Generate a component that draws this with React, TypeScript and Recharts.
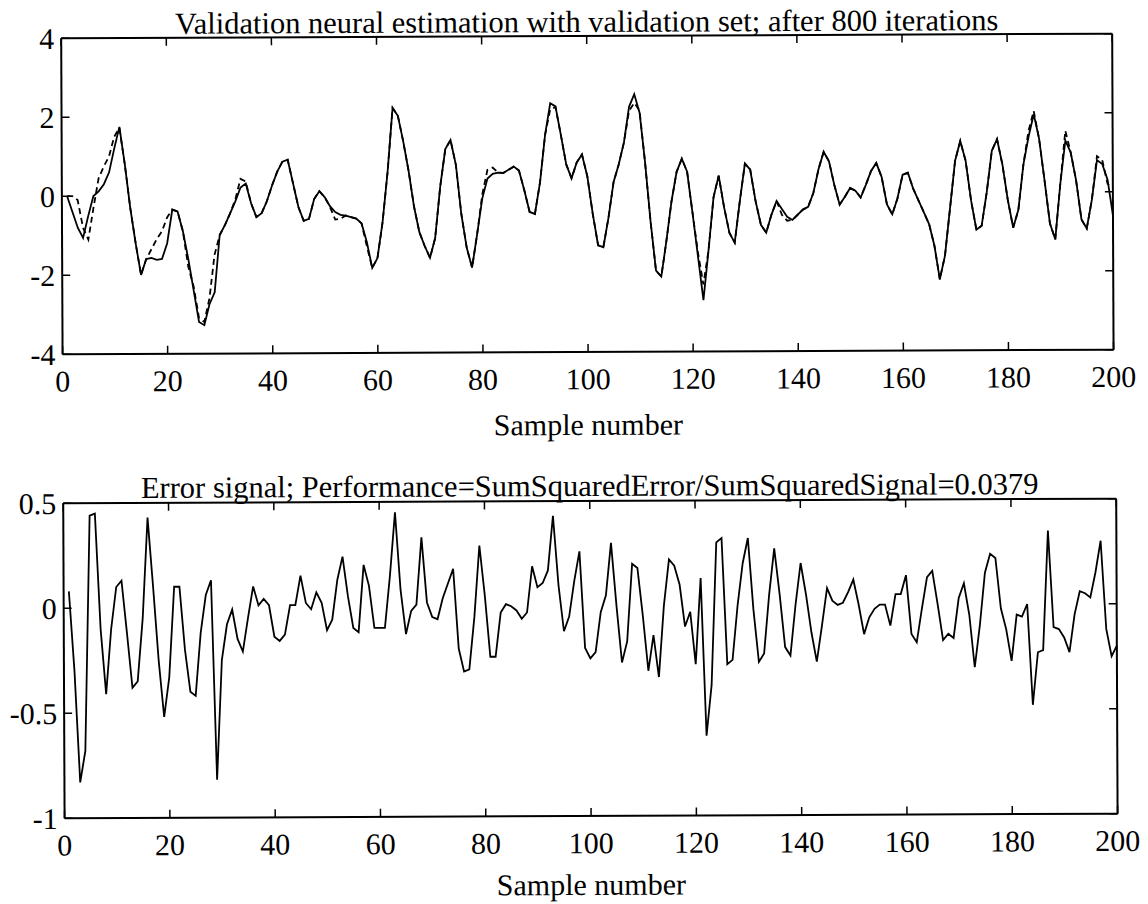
import React from 'react';
import { LineChart, Line, XAxis, YAxis } from 'recharts';

// sample index (1..200)
const SAMPLES = Array.from({ length: 200 }, (_, i) => i + 1);

// validation target (solid)
const TARGET = [
  0.0, -0.4, -0.8, -1.06, -0.5, 0.0, 0.12, 0.3, 0.6, 1.2,
  1.75, 0.8, -0.3, -1.2, -2.0, -1.6, -1.57, -1.62, -1.6, -1.2,
  -0.35, -0.4, -0.9, -1.6, -2.4, -3.2, -3.28, -2.75, -2.45, -1.0,
  -0.75, -0.45, -0.15, 0.2, 0.3, -0.2, -0.55, -0.45, -0.15, 0.25,
  0.6, 0.85, 0.9, 0.3, -0.3, -0.65, -0.6, -0.1, 0.1, -0.05,
  -0.28, -0.43, -0.5, -0.52, -0.56, -0.6, -0.72, -1.2, -1.85, -1.6,
  -0.7, 0.58, 2.2, 2.0, 1.35, 0.6, -0.3, -0.95, -1.3, -1.6,
  -1.1, 0.2, 1.15, 1.38, 0.75, -0.5, -1.35, -1.85, -1.0, -0.1,
  0.4, 0.52, 0.55, 0.54, 0.62, 0.7, 0.6, 0.1, -0.45, -0.5,
  0.3, 1.5, 2.3, 2.22, 1.5, 0.75, 0.4, 0.8, 1.0, 0.45,
  -0.5, -1.3, -1.35, -0.6, 0.3, 0.75, 1.3, 2.2, 2.52, 2.05,
  0.8, -0.7, -1.95, -2.1, -1.2, -0.2, 0.55, 0.88, 0.55, -0.5,
  -1.6, -2.7, -1.45, -0.1, 0.45, -0.35, -1.0, -1.25, -0.2, 0.75,
  0.6, -0.2, -0.8, -1.0, -0.55, -0.2, -0.4, -0.6, -0.68, -0.55,
  -0.42, -0.35, 0.0, 0.6, 1.04, 0.8, 0.2, -0.3, -0.1, 0.12,
  0.05, -0.12, 0.2, 0.55, 0.75, 0.4, -0.3, -0.55, -0.15, 0.45,
  0.5, 0.1, -0.2, -0.5, -0.8, -1.35, -2.2, -1.6, -0.4, 0.8,
  1.3, 0.8, -0.2, -0.95, -0.85, 0.0, 1.05, 1.34, 0.7, -0.2,
  -0.9, -0.45, 0.7, 1.4, 1.97, 1.35, 0.3, -0.8, -1.2, 0.2,
  1.3, 1.0, 0.3, -0.7, -0.93, -0.2, 0.8, 0.7, 0.3, -0.6,
];

// neural estimate (dashed)
const ESTIMATE = [
  0.0, 0.0, -0.1, -0.8, -1.1, -0.3, 0.45, 0.75, 1.0, 1.5,
  1.72, 0.8, -0.3, -1.2, -2.0, -1.6, -1.35, -1.1, -0.9, -0.55,
  -0.35, -0.4, -0.9, -1.8, -2.3, -3.1, -3.2, -2.6, -1.5, -1.0,
  -0.75, -0.45, -0.1, 0.42, 0.35, -0.2, -0.55, -0.45, -0.15, 0.25,
  0.6, 0.85, 0.9, 0.3, -0.3, -0.65, -0.6, -0.1, 0.1, -0.05,
  -0.3, -0.62, -0.6, -0.52, -0.56, -0.6, -0.72, -1.3, -1.85, -1.6,
  -0.7, 0.58, 2.2, 2.0, 1.35, 0.6, -0.3, -0.95, -1.3, -1.6,
  -1.1, 0.2, 1.15, 1.38, 0.75, -0.5, -1.35, -1.85, -1.0, 0.0,
  0.62, 0.68, 0.55, 0.54, 0.62, 0.7, 0.6, 0.1, -0.45, -0.5,
  0.3, 1.5, 2.15, 2.2, 1.5, 0.75, 0.4, 0.8, 1.0, 0.45,
  -0.5, -1.3, -1.35, -0.6, 0.3, 0.75, 1.3, 2.1, 2.3, 2.1,
  0.8, -0.7, -1.95, -2.1, -1.2, -0.2, 0.55, 0.88, 0.55, -0.5,
  -1.5, -2.3, -1.45, -0.1, 0.45, -0.35, -1.0, -1.25, -0.2, 0.75,
  0.6, -0.2, -0.8, -1.0, -0.55, -0.2, -0.55, -0.7, -0.68, -0.55,
  -0.42, -0.35, 0.0, 0.6, 1.04, 0.8, 0.2, -0.3, -0.1, 0.12,
  0.05, -0.12, 0.2, 0.55, 0.75, 0.4, -0.3, -0.55, -0.15, 0.45,
  0.5, 0.1, -0.2, -0.5, -0.8, -1.35, -2.2, -1.6, -0.4, 0.8,
  1.3, 0.8, -0.2, -0.95, -0.85, 0.0, 1.05, 1.34, 0.7, -0.2,
  -0.9, -0.45, 0.7, 1.55, 2.05, 1.35, 0.3, -0.8, -1.2, 0.2,
  1.55, 1.0, 0.3, -0.7, -0.93, -0.2, 0.9, 0.8, 0.2, 0.1,
];

// error signal
const ERROR = [
  0.08, -0.3, -0.83, -0.68, 0.44, 0.45, -0.1, -0.41, -0.1, 0.1,
  0.13, -0.12, -0.38, -0.35, -0.05, 0.43, 0.1, -0.25, -0.52, -0.33,
  0.1, 0.1, -0.2, -0.4, -0.42, -0.12, 0.06, 0.13, -0.82, -0.25,
  -0.08, -0.01, -0.15, -0.21, -0.05, 0.1, 0.01, 0.04, 0.01, -0.14,
  -0.16, -0.13, 0.01, 0.01, 0.15, 0.02, -0.01, 0.07, 0.02, -0.11,
  -0.06, 0.13, 0.24, 0.05, -0.1, -0.12, 0.2, 0.1, -0.1, -0.1,
  -0.1, 0.15, 0.45, 0.08, -0.13, -0.02, 0.01, 0.33, 0.02, -0.05,
  -0.06, 0.04, 0.11, 0.18, -0.2, -0.31, -0.3, -0.05, 0.29, 0.05,
  -0.24, -0.24, -0.03, 0.01, 0.0, -0.02, -0.06, -0.03, 0.19, 0.09,
  0.11, 0.17, 0.43, 0.1, -0.12, -0.05, 0.12, 0.26, -0.2, -0.25,
  -0.22, -0.03, 0.05, 0.3, 0.0, -0.27, -0.17, 0.2, 0.18, -0.05,
  -0.31, -0.14, -0.34, 0.0, 0.22, 0.19, 0.1, -0.1, -0.03, -0.28,
  0.13, -0.62, -0.38, 0.3, 0.32, -0.28, -0.26, 0.0, 0.2, 0.32,
  -0.02, -0.27, -0.23, 0.05, 0.27, 0.05, -0.2, -0.24, 0.0, 0.2,
  0.05, -0.13, -0.27, -0.1, 0.08, 0.02, 0.0, 0.01, 0.06, 0.12,
  0.0, -0.14, -0.06, -0.02, 0.0, 0.0, -0.1, 0.05, 0.05, 0.14,
  -0.14, -0.18, -0.02, 0.13, 0.16, 0.0, -0.17, -0.14, -0.16, 0.03,
  0.1, -0.05, -0.3, -0.1, 0.15, 0.24, 0.22, -0.02, -0.12, -0.27,
  -0.05, -0.06, 0.0, -0.48, -0.23, -0.22, 0.35, -0.11, -0.12, -0.16,
  -0.23, -0.05, 0.06, 0.05, 0.03, 0.15, 0.3, -0.12, -0.25, -0.2,
];

const X_TICKS = [0, 20, 40, 60, 80, 100, 120, 140, 160, 180, 200];
const TOP_Y_TICKS = [-4, -2, 0, 2, 4];
const BOTTOM_Y_TICKS = [-1, -0.5, 0, 0.5];

const TOP_TITLE = 'Validation neural estimation with validation set; after 800 iterations';
const BOTTOM_TITLE = 'Error signal; Performance=SumSquaredError/SumSquaredSignal=0.0379';
const X_LABEL = 'Sample number';

const FONT = '"Liberation Serif", "Times New Roman", serif';
const tickStyle = { fill: '#000', fontSize: 30, fontFamily: FONT };
const axisLine = { stroke: '#000', strokeWidth: 2 };
const tickLine = { stroke: '#000', strokeWidth: 1.5 };
const blank = () => '';

const App: React.FC = () => {
  const topData = SAMPLES.map((x, i) => ({ x, target: TARGET[i], estimate: ESTIMATE[i] }));
  const errData = SAMPLES.map((x, i) => ({ x, error: ERROR[i] }));

  return (
    <div
      style={{
        position: 'absolute', left: 0, top: 0, width: 1148, height: 904, background: '#fff',
        // the source scan is slightly tilted
        transform: 'rotate(-0.25deg)', transformOrigin: '574px 452px',
      }}
    >
      {/* upper panel */}
      <div style={{ position: 'absolute', left: 0, top: 0 }}>
        <LineChart width={1148} height={450} data={topData} margin={{ top: 35, right: 33, left: 0, bottom: 0 }}>
          <XAxis
            dataKey="x" type="number" domain={[0, 200]} ticks={X_TICKS} height={98}
            axisLine={axisLine} tickLine={tickLine} tickSize={-8} tickMargin={24} tick={tickStyle}
            label={{ value: X_LABEL, position: 'insideBottom', offset: 15, fill: '#000', fontSize: 30, fontFamily: FONT }}
          />
          <XAxis
            xAxisId="t" orientation="top" dataKey="x" type="number" domain={[0, 200]} ticks={X_TICKS} height={1}
            axisLine={axisLine} tickLine={tickLine} tickSize={-8} tickFormatter={blank}
            label={{ value: TOP_TITLE, position: 'top', offset: 3, fill: '#000', fontSize: 30.5, fontFamily: FONT }}
          />
          <YAxis
            type="number" domain={[-4, 4]} ticks={TOP_Y_TICKS} width={63}
            axisLine={axisLine} tickLine={tickLine} tickSize={-8} tickMargin={15} tick={tickStyle}
          />
          <YAxis
            yAxisId="r" orientation="right" type="number" domain={[-4, 4]} ticks={TOP_Y_TICKS} width={1}
            axisLine={axisLine} tickLine={tickLine} tickSize={-8} tickFormatter={blank}
          />
          <Line xAxisId="t" yAxisId="r" dataKey="target" stroke="none" dot={false} isAnimationActive={false} />
          <Line type="linear" dataKey="estimate" stroke="#000" strokeWidth={1.8} strokeDasharray="6 4" dot={false} isAnimationActive={false} />
          <Line type="linear" dataKey="target" stroke="#000" strokeWidth={1.8} dot={false} isAnimationActive={false} />
        </LineChart>
      </div>

      {/* lower panel */}
      <div style={{ position: 'absolute', left: 0, top: 450 }}>
        <LineChart width={1148} height={454} data={errData} margin={{ top: 50, right: 31, left: 0, bottom: 0 }}>
          <XAxis
            dataKey="x" type="number" domain={[0, 200]} ticks={X_TICKS} height={88}
            axisLine={axisLine} tickLine={tickLine} tickSize={-8} tickMargin={24} tick={tickStyle}
            label={{ value: X_LABEL, position: 'insideBottom', offset: 9, fill: '#000', fontSize: 30, fontFamily: FONT }}
          />
          <XAxis
            xAxisId="t" orientation="top" dataKey="x" type="number" domain={[0, 200]} ticks={X_TICKS} height={1}
            axisLine={axisLine} tickLine={tickLine} tickSize={-8} tickFormatter={blank}
            label={{ value: BOTTOM_TITLE, position: 'top', offset: 4, fill: '#000', fontSize: 30.5, fontFamily: FONT }}
          />
          <YAxis
            type="number" domain={[-1, 0.5]} ticks={BOTTOM_Y_TICKS} width={63}
            axisLine={axisLine} tickLine={tickLine} tickSize={-8} tickMargin={15} tick={tickStyle}
          />
          <YAxis
            yAxisId="r" orientation="right" type="number" domain={[-1, 0.5]} ticks={BOTTOM_Y_TICKS} width={1}
            axisLine={axisLine} tickLine={tickLine} tickSize={-8} tickFormatter={blank}
          />
          <Line xAxisId="t" yAxisId="r" dataKey="error" stroke="none" dot={false} isAnimationActive={false} />
          <Line type="linear" dataKey="error" stroke="#000" strokeWidth={1.8} dot={false} isAnimationActive={false} />
        </LineChart>
      </div>
    </div>
  );
};

export default App;
